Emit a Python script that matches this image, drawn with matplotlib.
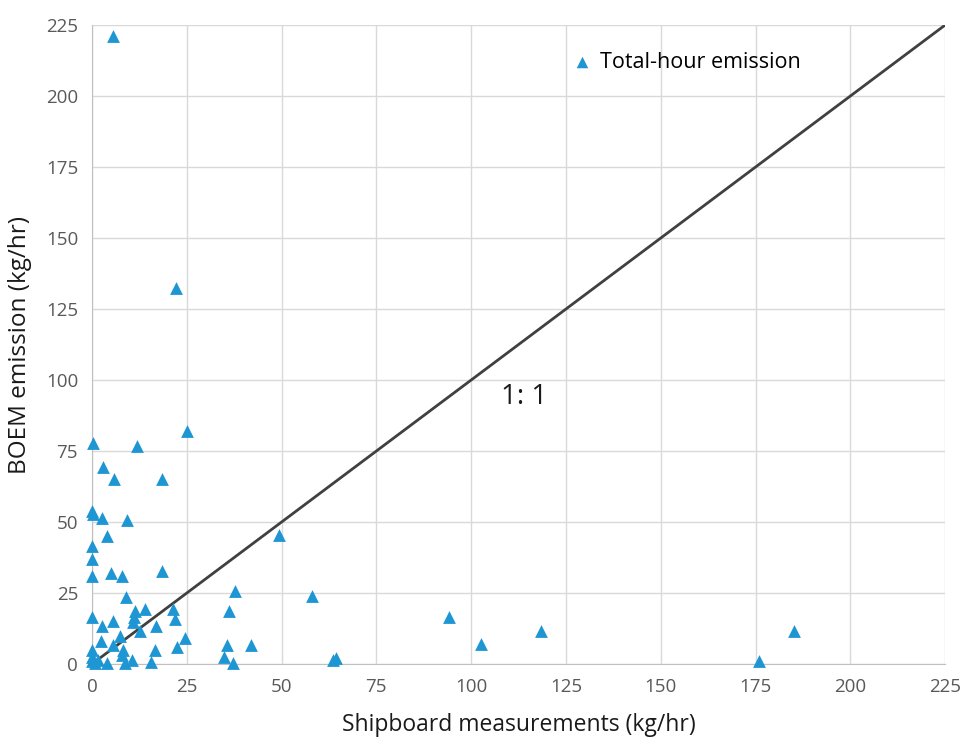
import matplotlib
matplotlib.use("Agg")
import matplotlib.pyplot as plt

shipboard = [5.5, 22.2, 25.0, 12.0, 0.35, 3.0, 5.8, 18.5, 0.0, 0.3, 2.6, 9.3, 4.0,
             49.3, 0.0, 0.0, 0.0, 4.9, 8.0, 18.5, 9.0, 37.7, 58.0, 0.0, 11.4, 14.1,
             21.5, 36.1, 21.9, 94.2, 2.6, 5.5, 10.7, 11.1, 12.8, 16.9, 24.5, 118.5,
             185.2, 7.4, 2.5, 5.5, 8.3, 16.5, 22.3, 0.0, 35.7, 42.0, 34.8, 102.6,
             176.0, 63.6, 64.4, 37.3, 0.0, 0.0, 3.9, 8.7, 10.5, 15.7, 8.0, 0.8, 1.5]
boem = [221.0, 132.4, 82.0, 76.9, 78.0, 69.3, 65.0, 65.0, 54.0, 52.8, 51.5, 50.7, 45.0,
        45.4, 41.5, 37.0, 31.1, 31.9, 31.1, 32.9, 23.7, 25.8, 24.0, 16.4, 18.8, 19.4,
        19.4, 18.8, 15.8, 16.5, 13.4, 15.3, 14.9, 16.5, 11.6, 13.4, 9.2, 11.6,
        11.6, 9.9, 8.2, 6.8, 4.9, 4.9, 6.1, 4.9, 6.7, 6.7, 2.6, 7.0,
        1.0, 1.4, 2.2, 0.3, 2.6, 1.0, 0.3, 0.3, 1.4, 0.7, 3.2, 0.3, 1.3]

ticks = [0, 25, 50, 75, 100, 125, 150, 175, 200, 225]
one_to_one = [0, 225]

plt.rcParams['font.family'] = ['Open Sans', 'DejaVu Sans']

fig = plt.figure(figsize=(9.64, 7.37), dpi=100)
ax = fig.add_axes([0.0954, 0.099, 0.885, 0.867])

ax.set_xlim(0, 225)
ax.set_ylim(0, 225)
ax.set_xticks(ticks)
ax.set_yticks(ticks)
ax.grid(True, color='#d9d9d9', linewidth=1)
ax.set_axisbelow(True)
for s in ['top', 'right']:
    ax.spines[s].set_visible(False)
for s in ['left', 'bottom']:
    ax.spines[s].set_color('#bfbfbf')
ax.tick_params(length=0, labelsize=13.5, colors='#595959', pad=10)

ax.plot(one_to_one, one_to_one, color='#404040', linewidth=2, zorder=2)
ax.scatter(shipboard, boem, marker='^', s=85, color='#1E96D4', linewidths=0,
           zorder=3, label='Total-hour emission', clip_on=False)

ax.text(114, 94, '1: 1', fontsize=20, color='#1a1a1a', ha='center', va='center')

ax.set_xlabel('Shipboard measurements (kg/hr)', fontsize=16.5, color='#1a1a1a', labelpad=12)
ax.set_ylabel('BOEM emission (kg/hr)', fontsize=17.5, color='#1a1a1a', labelpad=10)

leg = ax.legend(loc='center left', bbox_to_anchor=(0.527, 0.942), frameon=False,
                fontsize=15.5, handletextpad=-0.2, markerscale=0.9)

fig.savefig('out.png', dpi=100)
